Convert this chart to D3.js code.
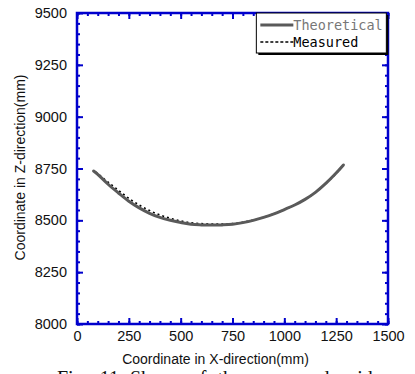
<!DOCTYPE html>
<html>
<head>
<meta charset="utf-8">
<script src="https://cdn.jsdelivr.net/npm/d3@7"></script>
<style>
  body { margin: 0; background: #fff; }
  text { font-family: "Liberation Sans", Arial, sans-serif; }
</style>
</head>
<body>
<div id="chart"></div>
<script>
// data (mm)
const theoX = [80, 100, 150, 200, 250, 300, 350, 400, 450, 500, 550, 600, 650, 700, 750, 800, 850, 900, 950, 1000, 1050, 1100, 1150, 1200, 1250, 1285];
const theoZ = [8738, 8722, 8674, 8632, 8592, 8560, 8534, 8514, 8500, 8490, 8481, 8478, 8477, 8478, 8481, 8489, 8500, 8514, 8531, 8552, 8574, 8601, 8635, 8678, 8728, 8767];
const measX = [90, 100, 150, 200, 250, 300, 350, 400, 450, 500, 550, 600, 650, 700, 750, 800, 850, 900, 950, 1000, 1050, 1100, 1150, 1200, 1250, 1280];
const measZ = [8732, 8725, 8684, 8645, 8606, 8574, 8547, 8526, 8510, 8497, 8488, 8484, 8482, 8482, 8484, 8491, 8501, 8515, 8531, 8552, 8574, 8601, 8635, 8678, 8726, 8762];
const xTicks = [0, 250, 500, 750, 1000, 1250, 1500];
const yTicks = [8000, 8250, 8500, 8750, 9000, 9250, 9500];
const seriesNames = ["Theoretical", "Measured"];

const margin = {top: 13, right: 27, bottom: 50, left: 77},
    width = 415 - margin.left - margin.right,
    height = 374 - margin.top - margin.bottom;

const svg = d3.select("#chart")
  .append("svg")
    .attr("width", 415)
    .attr("height", 374)
  .append("g")
    .attr("transform", `translate(${margin.left},${margin.top})`);

const x = d3.scaleLinear().domain([0, 1500]).range([0, width]);
const y = d3.scaleLinear().domain([8000, 9500]).range([height, 0]);

const blue = "#0000cc";

// curves
const line = d3.line().x(d => x(d[0])).y(d => y(d[1])).curve(d3.curveCatmullRom);
svg.append("path")
  .datum(d3.zip(measX, measZ))
  .attr("d", line)
  .attr("fill", "none")
  .attr("stroke", "#000")
  .attr("stroke-width", 1.6)
  .attr("stroke-dasharray", "2,3");
svg.append("path")
  .datum(d3.zip(theoX, theoZ))
  .attr("d", line)
  .attr("fill", "none")
  .attr("stroke", "#5a5a5a")
  .attr("stroke-width", 3)
  .attr("stroke-linejoin", "round")
  .attr("stroke-linecap", "round");

// axes: major + minor ticks on all four sides, pointing inward
function styleAxis(g) {
  g.select(".domain").remove();
  g.selectAll(".tick line").attr("stroke", blue).attr("stroke-width", 2);
}
const minorX = d3.range(0, 1501, 50), minorY = d3.range(8000, 9501, 50);

svg.append("g").attr("transform", `translate(0,${height})`)
  .call(d3.axisBottom(x).tickValues(minorX).tickSize(-3).tickFormat("")).call(styleAxis);
svg.append("g").call(d3.axisTop(x).tickValues(minorX).tickSize(-3).tickFormat("")).call(styleAxis);
svg.append("g").call(d3.axisLeft(y).tickValues(minorY).tickSize(-3).tickFormat("")).call(styleAxis);
svg.append("g").attr("transform", `translate(${width},0)`)
  .call(d3.axisRight(y).tickValues(minorY).tickSize(-3).tickFormat("")).call(styleAxis);

const xAxis = svg.append("g").attr("transform", `translate(0,${height})`)
  .call(d3.axisBottom(x).tickValues(xTicks).tickSize(-6).tickPadding(7).tickFormat(d3.format("d")))
  .call(styleAxis);
svg.append("g").call(d3.axisTop(x).tickValues(xTicks).tickSize(-6).tickFormat("")).call(styleAxis);
const yAxis = svg.append("g")
  .call(d3.axisLeft(y).tickValues(yTicks).tickSize(-6).tickPadding(10).tickFormat(d3.format("d")))
  .call(styleAxis);
svg.append("g").attr("transform", `translate(${width},0)`)
  .call(d3.axisRight(y).tickValues(yTicks).tickSize(-6).tickFormat("")).call(styleAxis);

svg.selectAll(".tick text")
  .attr("fill", "#111")
  .style("font-family", "'Liberation Sans', Arial, sans-serif")
  .style("font-size", "14.5px");

// frame
svg.append("rect")
  .attr("width", width)
  .attr("height", height)
  .attr("fill", "none")
  .attr("stroke", blue)
  .attr("stroke-width", 2.5);

// axis titles
svg.append("text")
  .attr("x", width / 2 - 17)
  .attr("y", height + 40)
  .attr("text-anchor", "middle")
  .style("font-size", "14px")
  .attr("fill", "#111")
  .text("Coordinate in X-direction(mm)");

svg.append("text")
  .attr("transform", `translate(${-52},${height / 2 - 1}) rotate(-90)`)
  .attr("text-anchor", "middle")
  .style("font-size", "14px")
  .attr("fill", "#111")
  .text("Coordinate in Z-direction(mm)");

// legend with drop shadow
const lg = svg.append("g").attr("transform", `translate(${x(865)},0)`);
lg.append("rect").attr("x", 2).attr("y", 2).attr("width", 130).attr("height", 40).attr("fill", "#000");
lg.append("rect").attr("width", 130).attr("height", 40).attr("fill", "#fff").attr("stroke", "#000").attr("stroke-width", 1);
lg.append("line").attr("x1", 4).attr("x2", 37).attr("y1", 12).attr("y2", 12)
  .attr("stroke", "#5a5a5a").attr("stroke-width", 3);
lg.append("line").attr("x1", 4).attr("x2", 37).attr("y1", 29).attr("y2", 29)
  .attr("stroke", "#000").attr("stroke-width", 1.6).attr("stroke-dasharray", "3,2");
lg.selectAll("text.lab")
  .data(seriesNames)
  .join("text")
    .attr("class", "lab")
    .attr("x", 37)
    .attr("y", (d, i) => 12 + i * 17)
    .attr("dy", "0.36em")
    .attr("fill", (d, i) => i === 0 ? "#777" : "#000")
    .style("font-family", "'DejaVu Sans Mono', monospace")
    .style("font-size", "13.5px")
    .text(d => d);

// caption (cut by the page edge)
d3.select("svg").append("text")
  .attr("x", 57)
  .attr("y", 385)
  .style("font-family", "'Liberation Serif', 'Times New Roman', serif")
  .style("font-size", "20px")
  .style("word-spacing", "6px")
  .attr("fill", "#111")
  .text("Fig. 11 Shape of the measured grid");
</script>
</body>
</html>
